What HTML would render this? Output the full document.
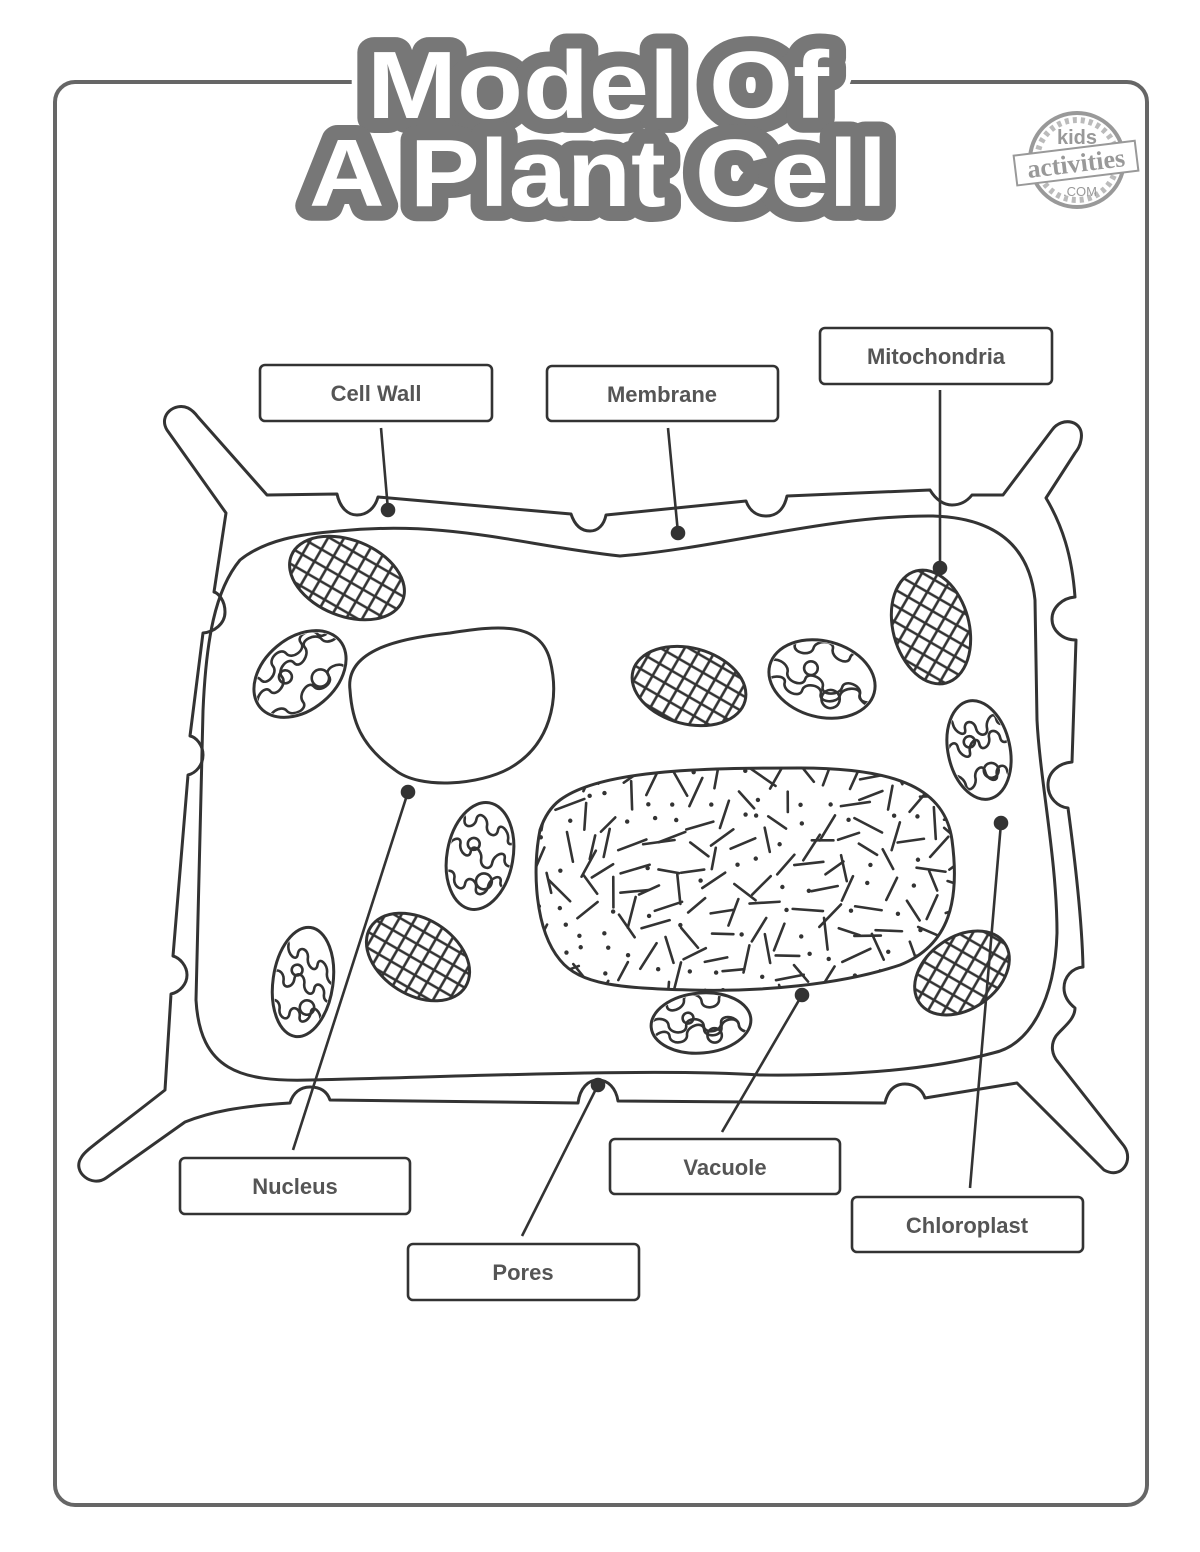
<!DOCTYPE html>
<html><head><meta charset="utf-8"><style>
html,body{margin:0;padding:0;background:#fff;}
svg{display:block;}
.lbl{font-family:"Liberation Sans",sans-serif;font-weight:bold;font-size:22px;fill:#555;}
</style></head><body>
<svg id="s" width="1200" height="1552" viewBox="0 0 1200 1552" xmlns="http://www.w3.org/2000/svg">
<defs>
<pattern id="grid" width="14" height="14" patternUnits="userSpaceOnUse" patternTransform="rotate(30)">
<path d="M0,7 H14 M7,0 V14" stroke="#333" stroke-width="2.6" fill="none"/>
</pattern>
</defs>
<!-- frame -->
<rect x="55" y="82" width="1092" height="1423" rx="20" fill="none" stroke="#666" stroke-width="4"/>
<!-- title -->
<g font-family="Liberation Sans, sans-serif" font-weight="bold" text-anchor="middle" stroke-linejoin="round">
<text x="598" y="118" font-size="96" textLength="462" lengthAdjust="spacingAndGlyphs" fill="#fff" stroke="#fff" stroke-width="40">Model Of</text>
<text x="598" y="206" font-size="96" textLength="578" lengthAdjust="spacingAndGlyphs" fill="#fff" stroke="#fff" stroke-width="40">A Plant Cell</text>
<text x="598" y="118" font-size="96" textLength="462" lengthAdjust="spacingAndGlyphs" fill="#777" stroke="#777" stroke-width="30">Model Of</text>
<text x="598" y="206" font-size="96" textLength="578" lengthAdjust="spacingAndGlyphs" fill="#777" stroke="#777" stroke-width="30">A Plant Cell</text>
<text x="598" y="118" font-size="96" textLength="462" lengthAdjust="spacingAndGlyphs" fill="#fff">Model Of</text>
<text x="598" y="206" font-size="96" textLength="578" lengthAdjust="spacingAndGlyphs" fill="#fff">A Plant Cell</text>
</g>
<!-- logo -->
<g>
<circle cx="1077" cy="160" r="47" fill="#fff" stroke="#999" stroke-width="4"/>
<circle cx="1077" cy="160" r="40" fill="none" stroke="#bbb" stroke-width="6" stroke-dasharray="4 4"/>
<text x="1077" y="144" text-anchor="middle" font-family="Liberation Sans,sans-serif" font-weight="bold" font-size="20" fill="#999">kids</text>
<g transform="rotate(-7 1077 163)">
<rect x="1015" y="148" width="122" height="30" fill="#fff" stroke="#999" stroke-width="2"/>
<text x="1076" y="172" text-anchor="middle" font-family="Liberation Serif,serif" font-weight="bold" font-size="26" fill="#999">activities</text>
</g>
<text x="1080" y="196" text-anchor="middle" font-family="Liberation Sans,sans-serif" font-size="13" fill="#999">.COM</text>
</g>

<g fill="none" stroke="#333" stroke-width="3" stroke-linejoin="round" stroke-linecap="round">
<path d="M267,495 L337,494 C340,508 348,515 357,515 C367,515 375,508 378,497
L571,514 C575,526 582,531 590,531 C598,531 604,525 606,515
L746,501 C750,512 758,516 766,516 C776,516 784,510 787,496
L930,490 C936,500 944,505 952,505 C962,505 968,500 972,495
L1003,495 L1052,430 C1062,416 1085,420 1081,440 C1080,446 1078,449 1075,453 L1046,498
C1062,525 1072,555 1075,597 C1062,598 1052,608 1052,619 C1052,630 1062,640 1076,640
L1072,762 C1059,763 1048,772 1048,785 C1048,798 1058,807 1068,808
C1075,860 1082,920 1083,967 C1072,968 1064,977 1064,988 C1064,998 1070,1004 1075,1008
C1075,1020 1062,1028 1056,1036 C1050,1045 1052,1055 1058,1062 L1124,1146
C1134,1160 1122,1180 1104,1170 L1017,1083 L925,1098
C922,1089 914,1084 905,1084 C895,1084 888,1090 885,1103
L618,1101 C616,1088 608,1080 598,1080 C588,1080 580,1088 578,1103
L330,1100 C327,1091 320,1087 310,1087 C300,1087 293,1093 290,1103
C240,1106 210,1112 185,1122 L106,1178 C92,1188 72,1172 81,1158 C85,1150 95,1145 165,1090
L171,994 C180,992 187,984 187,975 C187,966 180,958 173,956
L188,775 C196,773 203,765 203,755 C203,745 196,737 190,736
L203,633 C214,632 225,624 225,612 C225,600 218,593 214,592
L226,513 L167,430 C158,415 175,402 188,408 C192,410 195,413 198,417 Z"/>
<path d="M339,531 C450,520 520,545 620,556 C720,548 830,515 933,516 C1000,518 1030,550 1035,600 L1037,720 C1040,780 1057,860 1057,933 C1055,1000 1030,1045 993,1053 C930,1070 850,1076 760,1075 C650,1068 450,1077 310,1080 C240,1082 200,1070 196,1000 L203,711 C206,640 215,590 240,560 C265,540 300,534 339,531 Z"/>
<path d="M350,690 C345,650 400,638 450,633 C500,625 540,622 550,660 C560,700 550,745 510,768 C480,785 420,790 395,770 C360,745 352,720 350,690 Z"/>
<path id="vac" d="M560,800 C600,770 700,768 800,768 C900,768 945,790 952,840 C960,900 950,945 900,965 C840,985 760,992 690,990 C620,988 580,985 560,960 C535,930 532,870 540,830 C545,815 552,806 560,800 Z"/>
</g>
<clipPath id="vacclip"><path d="M560,800 C600,770 700,768 800,768 C900,768 945,790 952,840 C960,900 950,945 900,965 C840,985 760,992 690,990 C620,988 580,985 560,960 C535,930 532,870 540,830 C545,815 552,806 560,800 Z"/></clipPath>
<g id="vacfill" clip-path="url(#vacclip)" stroke="#333" stroke-width="2.6" stroke-linecap="round" fill="#333"></g>
<g id="orgs"></g>

<g stroke="#333" stroke-width="2.6" fill="#333">
<line x1="381" y1="428" x2="388" y2="510"/><circle cx="388" cy="510" r="6"/>
<line x1="668" y1="428" x2="678" y2="533"/><circle cx="678" cy="533" r="6"/>
<line x1="940" y1="390" x2="940" y2="568"/><circle cx="940" cy="568" r="6"/>
<line x1="293" y1="1150" x2="408" y2="792"/><circle cx="408" cy="792" r="6"/>
<line x1="722" y1="1132" x2="802" y2="995"/><circle cx="802" cy="995" r="6"/>
<line x1="970" y1="1188" x2="1001" y2="823"/><circle cx="1001" cy="823" r="6"/>
<line x1="522" y1="1236" x2="598" y2="1085"/><circle cx="598" cy="1085" r="6"/>
</g>
<g fill="#fff" stroke="#333" stroke-width="2.6">
<rect x="260" y="365" width="232" height="56" rx="5"/>
<rect x="547" y="366" width="231" height="55" rx="5"/>
<rect x="820" y="328" width="232" height="56" rx="5"/>
<rect x="180" y="1158" width="230" height="56" rx="5"/>
<rect x="610" y="1139" width="230" height="55" rx="5"/>
<rect x="852" y="1197" width="231" height="55" rx="5"/>
<rect x="408" y="1244" width="231" height="56" rx="5"/>
</g>
<g class="lbl" text-anchor="middle">
<text x="376" y="401" class="lbl">Cell Wall</text>
<text x="662" y="402" class="lbl">Membrane</text>
<text x="936" y="364" class="lbl">Mitochondria</text>
<text x="295" y="1194" class="lbl">Nucleus</text>
<text x="725" y="1175" class="lbl">Vacuole</text>
<text x="967" y="1233" class="lbl">Chloroplast</text>
<text x="523" y="1280" class="lbl">Pores</text>
</g>
</svg>
<script>
(function(){
var NS="http://www.w3.org/2000/svg";
var seed=7;function r(){seed=(seed*16807)%2147483647;return seed/2147483647;}
function el(t,a,p){var e=document.createElementNS(NS,t);for(var k in a)e.setAttribute(k,a[k]);p.appendChild(e);return e;}
var vf=document.getElementById('vacfill');
for(var y=770;y<1000;y+=22){for(var x=535;x<960;x+=22){
 var cx=x+r()*14,cy=y+r()*14;
 if(r()<0.3){el('circle',{cx:cx,cy:cy,r:2.2,stroke:'none'},vf);}
 else{var a=r()*Math.PI,L=10+r()*6;el('line',{x1:cx-Math.cos(a)*L,y1:cy-Math.sin(a)*L,x2:cx+Math.cos(a)*L,y2:cy+Math.sin(a)*L},vf);}
}}
var og=document.getElementById('orgs');
var defs=document.querySelector('defs');
var cl=[[347,578,60,38,22],[931,627,38,58,-15],[689,686,58,38,15],[418,957,56,38,32],[962,973,52,36,-35]];
var mi=[[300,674,52,36,-40],[480,856,33,54,10],[303,982,30,55,8],[822,679,54,38,15],[979,750,31,50,-12],[701,1023,50,30,-5]];
cl.forEach(function(c,i){
 var cp=el('clipPath',{id:'cc'+i},defs);
 el('ellipse',{cx:c[0],cy:c[1],rx:c[2],ry:c[3],transform:'rotate('+c[4]+' '+c[0]+' '+c[1]+')'},cp);
 el('rect',{x:c[0]-80,y:c[1]-80,width:160,height:160,fill:'url(#grid)','clip-path':'url(#cc'+i+')'},og);
 el('ellipse',{cx:c[0],cy:c[1],rx:c[2],ry:c[3],transform:'rotate('+c[4]+' '+c[0]+' '+c[1]+')',fill:'none',stroke:'#333','stroke-width':3},og);
});
mi.forEach(function(c,i){
 var cp=el('clipPath',{id:'mc'+i},defs);
 el('ellipse',{cx:c[0],cy:c[1],rx:c[2]-2,ry:c[3]-2,transform:'rotate('+c[4]+' '+c[0]+' '+c[1]+')'},cp);
 var outer=el('g',{'clip-path':'url(#mc'+i+')'},og);
 var gg=el('g',{transform:'translate('+c[0]+','+c[1]+') rotate('+c[4]+')',fill:'none',stroke:'#333','stroke-width':2.6},outer);
 var rx=c[2],ry=c[3];
 for(var k=0;k<3;k++){
  var px=-rx*1.0, py=-ry*0.6+k*ry*0.55, d='M'+px+','+py;
  for(var j=0;j<6;j++){var nx=px+rx*0.35,ny=py+(r()-0.5)*ry*0.3;var s=(j%2?1:-1)*9;d+=' C'+px+','+(py+s)+' '+nx+','+(ny+s)+' '+nx+','+ny;px=nx;py=ny;}
  el('path',{d:d},gg);
 }
 el('circle',{cx:rx*0.25,cy:ry*0.45,r:Math.min(rx,ry)*0.24},gg);
 el('circle',{cx:-rx*0.25,cy:-ry*0.2,r:Math.min(rx,ry)*0.18},gg);
 el('ellipse',{cx:c[0],cy:c[1],rx:c[2],ry:c[3],transform:'rotate('+c[4]+' '+c[0]+' '+c[1]+')',fill:'none',stroke:'#333','stroke-width':3},og);
});
})();
</script>
</body></html>
